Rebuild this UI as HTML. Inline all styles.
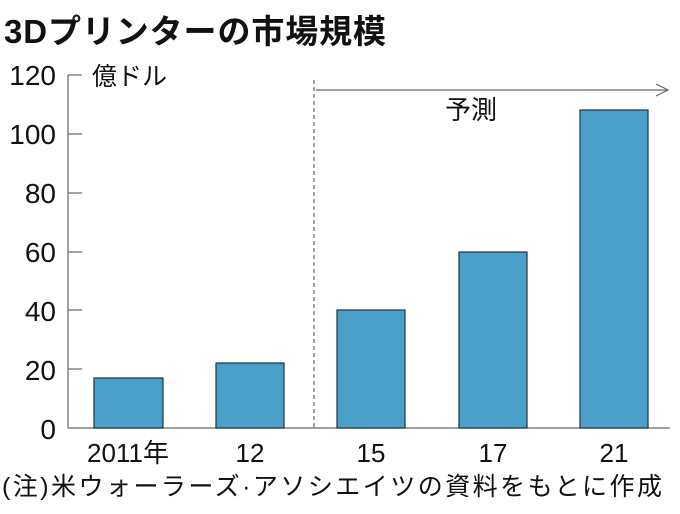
<!DOCTYPE html>
<html><head><meta charset="utf-8"><style>
body{margin:0;background:#fff;width:680px;height:509px;overflow:hidden}
</style></head><body>
<svg width="680" height="509" xmlns="http://www.w3.org/2000/svg" font-family="Liberation Sans, Noto Sans CJK JP, sans-serif">
<text x="4" y="43" font-size="33" font-weight="bold" fill="#111" textLength="382">3Dプリンターの市場規模</text>
<g font-size="28" fill="#111" text-anchor="end">
<text x="56" y="85">120</text><text x="56" y="144">100</text><text x="56" y="203">80</text>
<text x="56" y="262">60</text><text x="56" y="321">40</text><text x="56" y="380">20</text><text x="56" y="439">0</text>
</g>
<g stroke="#666" stroke-width="1.2">
<line x1="68" y1="75" x2="68" y2="428"/><line x1="68" y1="428" x2="670" y2="428"/>
<line x1="68" y1="75" x2="82" y2="75"/><line x1="68" y1="134" x2="82" y2="134"/><line x1="68" y1="193" x2="82" y2="193"/>
<line x1="68" y1="252" x2="82" y2="252"/><line x1="68" y1="310" x2="82" y2="310"/><line x1="68" y1="369" x2="82" y2="369"/>
<line x1="314" y1="80" x2="314" y2="428" stroke-dasharray="4,3"/>
<line x1="316" y1="90" x2="668" y2="90"/><polyline points="656,84 668,90 656,96" fill="none"/>
</g>
<text x="92" y="85" font-size="25" fill="#111">億ドル</text>
<text x="445" y="119" font-size="26" fill="#111">予測</text>
<g fill="#4aa0c8" stroke="#1d3440" stroke-width="1.2">
<rect x="94" y="378" width="69" height="50"/><rect x="216" y="363" width="68" height="65"/>
<rect x="337" y="310" width="68" height="118"/><rect x="459" y="252" width="68" height="176"/>
<rect x="580" y="110" width="68" height="318"/>
</g>
<g font-size="26" fill="#111" text-anchor="middle">
<text x="128" y="462">2011年</text><text x="250" y="462">12</text><text x="371" y="462">15</text>
<text x="493" y="462">17</text><text x="614" y="462">21</text>
</g>
<text x="2" y="495" font-size="25" fill="#111" textLength="660">(注)米ウォーラーズ·アソシエイツの資料をもとに作成</text>
</svg>
</body></html>
